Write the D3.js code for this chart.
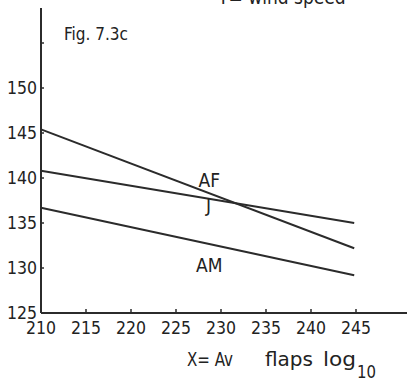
<!DOCTYPE html>
<html>
<head>
<meta charset="utf-8">
<script src="https://cdn.jsdelivr.net/npm/d3@7"></script>
<style>
  body { margin: 0; background: #fff; }
  text { font-family: "DejaVu Sans Condensed", "DejaVu Sans", sans-serif; fill: #222; }
</style>
</head>
<body>
<div id="chart"></div>
<script>
// data
const xTicks = [210, 215, 220, 225, 230, 235, 240, 245];
const yTicks = [125, 130, 135, 140, 145, 150];
const yMinorTicks = [155];
const seriesNames = ["AF", "J", "AM"];
const seriesX = [210, 244.8];
const afValues = [145.4, 132.2];
const jValues = [140.8, 135.0];
const amValues = [136.7, 129.2];
const labelPos = [[228.7, 139.0], [228.6, 136.2], [228.7, 129.6]];

const width = 407, height = 382;

const svg = d3.select("#chart").append("svg")
    .attr("width", width)
    .attr("height", height);

// scales
const x = d3.scaleLinear().domain([210, 245]).range([41, 356]);
const y = d3.scaleLinear().domain([125, 150]).range([313, 88]);

const ink = "#2b2b2b";

// axes lines
svg.append("line")
    .attr("x1", x(210)).attr("x2", width)
    .attr("y1", y(125)).attr("y2", y(125))
    .attr("stroke", ink).attr("stroke-width", 2);
svg.append("line")
    .attr("x1", x(210)).attr("x2", x(210))
    .attr("y1", y(125)).attr("y2", y(158.9))
    .attr("stroke", ink).attr("stroke-width", 2);

// x ticks (inside)
svg.selectAll("line.xtick").data(xTicks.slice(1)).enter().append("line")
    .attr("class", "xtick")
    .attr("x1", d => x(d)).attr("x2", d => x(d))
    .attr("y1", y(125)).attr("y2", y(125) - 4)
    .attr("stroke", ink).attr("stroke-width", 1.5);

svg.selectAll("text.xlab").data(xTicks).enter().append("text")
    .attr("class", "xlab")
    .attr("x", d => x(d))
    .attr("y", 334)
    .attr("text-anchor", "middle")
    .attr("font-size", 17.5)
    .text(d => d);

// y ticks (inside)
svg.selectAll("line.ytick").data(yTicks.slice(1).concat(yMinorTicks)).enter().append("line")
    .attr("class", "ytick")
    .attr("x1", x(210)).attr("x2", x(210) + 3)
    .attr("y1", d => y(d)).attr("y2", d => y(d))
    .attr("stroke", ink).attr("stroke-width", 1.5);

svg.selectAll("text.ylab").data(yTicks).enter().append("text")
    .attr("class", "ylab")
    .attr("x", 37)
    .attr("y", d => y(d) + 6)
    .attr("text-anchor", "end")
    .attr("font-size", 17.5)
    .text(d => d);

// lines
const line = d3.line().x(d => x(d[0])).y(d => y(d[1]));
const series = [afValues, jValues, amValues];
series.forEach(function (vals) {
    svg.append("path")
        .attr("d", line(seriesX.map((xv, i) => [xv, vals[i]])))
        .attr("fill", "none")
        .attr("stroke", ink)
        .attr("stroke-width", 2);
});

// series labels
svg.selectAll("text.slab").data(seriesNames).enter().append("text")
    .attr("class", "slab")
    .attr("x", (d, i) => x(labelPos[i][0]))
    .attr("y", (d, i) => y(labelPos[i][1]))
    .attr("text-anchor", "middle")
    .attr("font-size", 19)
    .text(d => d);

// figure caption
svg.append("text")
    .attr("x", 64).attr("y", 40)
    .attr("font-size", 17)
    .text("Fig. 7.3c");

// y axis title, cut off at the top as in the scan
svg.append("text")
    .attr("x", 218).attr("y", 4)
    .attr("font-size", 19)
    .text("Y= wind speed");

// x axis title, words spread out: [text, left, width]
const xTitle = [["X= Av", 187, 46], ["flaps", 265, 48], ["log", 323, 33]];
svg.selectAll("text.xtitle").data(xTitle).enter().append("text")
    .attr("class", "xtitle")
    .attr("x", d => d[1])
    .attr("y", 366)
    .attr("font-size", 20)
    .attr("textLength", d => d[2])
    .attr("lengthAdjust", "spacingAndGlyphs")
    .text(d => d[0]);
svg.append("text")
    .attr("x", 357).attr("y", 378)
    .attr("font-size", 17.5)
    .attr("textLength", 19)
    .attr("lengthAdjust", "spacingAndGlyphs")
    .text("10");
</script>
</body>
</html>
